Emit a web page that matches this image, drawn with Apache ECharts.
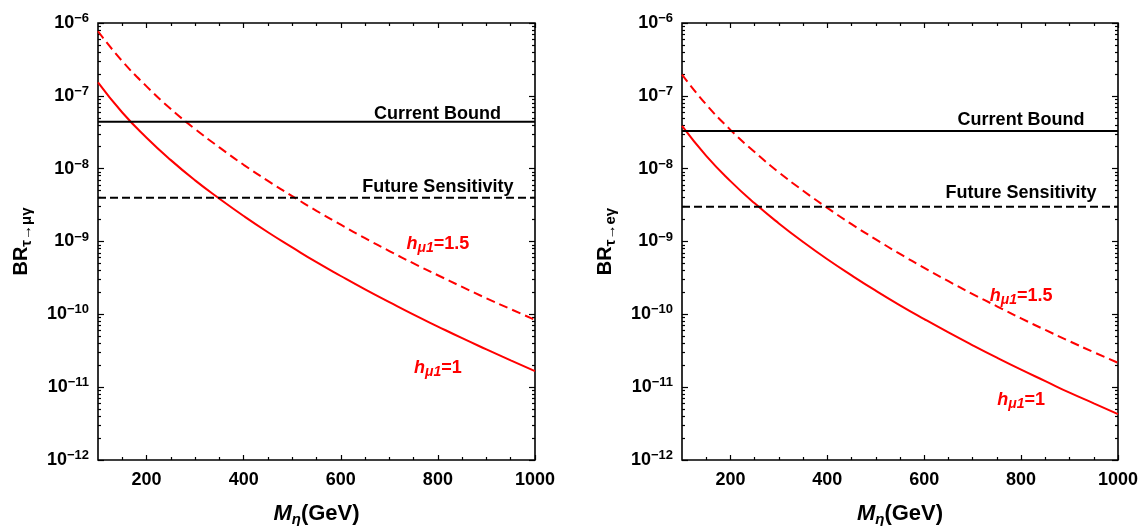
<!DOCTYPE html>
<html>
<head>
<meta charset="utf-8">
<script src="https://cdn.jsdelivr.net/npm/echarts@6/dist/echarts.min.js"></script>
<style>
  html, body { margin: 0; padding: 0; background: #fff; }
  #chart { width: 1145px; height: 526px; }
</style>
</head>
<body>
<div id="chart"></div>
<script>
// M_eta in GeV
const masses = [100, 150, 200, 250, 300, 350, 400, 450, 500, 550, 600, 650, 700, 750, 800, 850, 900, 950, 1000];

// BR(tau -> mu gamma)
const tauMuH1 = [1.53e-7, 5.9e-8, 2.66e-8, 1.31e-8, 6.9e-9, 3.87e-9, 2.24e-9, 1.34e-9, 8.3e-10, 5.2e-10,
  3.36e-10, 2.2e-10, 1.47e-10, 9.9e-11, 6.8e-11, 4.7e-11, 3.3e-11, 2.33e-11, 1.66e-11];
const tauMuH15 = [7.7e-7, 2.99e-7, 1.35e-7, 6.6e-8, 3.5e-8, 1.96e-8, 1.13e-8, 6.8e-9, 4.2e-9, 2.64e-9,
  1.7e-9, 1.11e-9, 7.4e-10, 5.0e-10, 3.44e-10, 2.38e-10, 1.66e-10, 1.18e-10, 8.4e-11];

// BR(tau -> e gamma)
const tauEH1 = [3.86e-8, 1.5e-8, 6.75e-9, 3.34e-9, 1.77e-9, 9.85e-10, 5.7e-10, 3.43e-10, 2.11e-10, 1.33e-10,
  8.6e-11, 5.64e-11, 3.76e-11, 2.54e-11, 1.74e-11, 1.21e-11, 8.4e-12, 6.0e-12, 4.26e-12];
const tauEH15 = [1.95e-7, 7.6e-8, 3.41e-8, 1.69e-8, 8.9e-9, 4.98e-9, 2.89e-9, 1.73e-9, 1.07e-9, 6.75e-10,
  4.35e-10, 2.85e-10, 1.9e-10, 1.29e-10, 8.8e-11, 6.1e-11, 4.27e-11, 3.02e-11, 2.16e-11];

// [current bound, future sensitivity]
const tauMuBounds = [4.4e-8, 4.0e-9];
const tauEBounds = [3.3e-8, 3.0e-9];

const xTickLabels = [200, 400, 600, 800, 1000];
const xMinorTicks = [150, 250, 300, 350, 450, 500, 550, 650, 700, 750, 850, 900, 950];
const yExponents = [-12, -11, -10, -9, -8, -7, -6];

const FONT = "'Liberation Sans', Arial, sans-serif";

// minor log ticks (2..9 in each decade), in exponent units
const yMinorTicks = [];
for (let d = yExponents[0]; d < yExponents[yExponents.length - 1]; d++) {
  for (let k = 2; k <= 9; k++) yMinorTicks.push(d + Math.log10(k));
}

const chart = echarts.init(document.getElementById("chart"));

const gridBase = { top: 23, height: 437, show: true, borderColor: "#000", borderWidth: 1.6,
  backgroundColor: "transparent", outerBoundsMode: "none", containLabel: false };
const grids = [
  { ...gridBase, left: 98, width: 437 },
  { ...gridBase, left: 682, width: 436 },
];

const tickStyle = { color: "#000", width: 1.2 };

const xAxes = [];
const yAxes = [];
const series = [];

function addPanel(g, solid, dashed, bounds, sub, labelSpots) {
  const xBase = xAxes.length;
  const yBase = yAxes.length;

  const xCommon = { gridIndex: g, type: "value", min: 100, max: 1000, axisLine: { show: false }, splitLine: { show: false } };
  xAxes.push({
    ...xCommon,
    position: "bottom",
    axisTick: { inside: true, length: 5, customValues: xTickLabels, lineStyle: tickStyle },
    axisLabel: { customValues: xTickLabels, formatter: (v) => String(v), margin: 11,
      color: "#000", fontSize: 18, fontWeight: "bold", fontFamily: FONT },
    name: "{i|M}{s|η}{n|(GeV)}",
    nameLocation: "middle",
    nameGap: 41,
    nameTextStyle: {
      rich: {
        i: { fontSize: 22, fontStyle: "italic", fontWeight: "bold", fontFamily: FONT, color: "#000", lineHeight: 26 },
        s: { fontSize: 15, fontStyle: "italic", fontWeight: "bold", fontFamily: FONT, color: "#000", lineHeight: 14, verticalAlign: "bottom" },
        n: { fontSize: 22, fontWeight: "bold", fontFamily: FONT, color: "#000", lineHeight: 26 },
      },
    },
  });
  xAxes.push({ ...xCommon, position: "bottom", axisLabel: { show: false },
    axisTick: { inside: true, length: 3, customValues: xMinorTicks, lineStyle: tickStyle } });
  xAxes.push({ ...xCommon, position: "top", axisLabel: { show: false },
    axisTick: { inside: true, length: 5, customValues: xTickLabels, lineStyle: tickStyle } });
  xAxes.push({ ...xCommon, position: "top", axisLabel: { show: false },
    axisTick: { inside: true, length: 3, customValues: xMinorTicks, lineStyle: tickStyle } });

  // data axis (log), hidden
  yAxes.push({ gridIndex: g, type: "log", logBase: 10, min: 1e-12, max: 1e-6, show: false });
  const yCommon = { gridIndex: g, type: "value", min: -12, max: -6, axisLine: { show: false }, splitLine: { show: false } };
  yAxes.push({
    ...yCommon,
    position: "left",
    interval: 1,
    axisTick: { inside: true, length: 6, lineStyle: tickStyle },
    axisLabel: {
      margin: 9,
      formatter: (v) => "{b|10}{s|\u2212" + Math.abs(Math.round(v)) + "}",
      rich: {
        b: { fontSize: 18, fontWeight: "bold", fontFamily: FONT, color: "#000", lineHeight: 22 },
        s: { fontSize: 13, fontWeight: "bold", fontFamily: FONT, color: "#000", lineHeight: 13, verticalAlign: "top" },
      },
    },
    name: "{a|BR}{b|" + sub + "}",
    nameLocation: "middle",
    nameRotate: 90,
    nameGap: 64,
    nameTextStyle: {
      rich: {
        a: { fontSize: 20, fontWeight: "bold", fontFamily: FONT, color: "#000", lineHeight: 26 },
        b: { fontSize: 15, fontWeight: "bold", fontFamily: FONT, color: "#000", lineHeight: 15, verticalAlign: "bottom" },
      },
    },
  });
  yAxes.push({ ...yCommon, position: "left", axisLabel: { show: false },
    axisTick: { inside: true, length: 3, customValues: yMinorTicks, lineStyle: tickStyle } });
  yAxes.push({ ...yCommon, position: "right", interval: 1, axisLabel: { show: false },
    axisTick: { inside: true, length: 6, lineStyle: tickStyle } });
  yAxes.push({ ...yCommon, position: "right", axisLabel: { show: false },
    axisTick: { inside: true, length: 3, customValues: yMinorTicks, lineStyle: tickStyle } });

  const base = { type: "line", xAxisIndex: xBase, yAxisIndex: yBase, showSymbol: false, silent: true, animation: false };
  series.push({ ...base, data: masses.map((m, i) => [m, solid[i]]), smooth: true,
    lineStyle: { color: "#ff0000", width: 2 } });
  series.push({ ...base, data: masses.map((m, i) => [m, dashed[i]]), smooth: true,
    lineStyle: { color: "#ff0000", width: 2, type: [9, 5] } });
  series.push({ ...base, data: [[100, bounds[0]], [1000, bounds[0]]],
    lineStyle: { color: "#000", width: 2 } });
  series.push({ ...base, data: [[100, bounds[1]], [1000, bounds[1]]],
    lineStyle: { color: "#000", width: 2, type: [8, 4] } });

  const blackText = { fontSize: 18, fontWeight: "bold", fontFamily: FONT, color: "#000" };
  const redRich = {
    h: { fontSize: 18, fontStyle: "italic", fontWeight: "bold", fontFamily: FONT, color: "#ff0000", lineHeight: 22 },
    s: { fontSize: 14, fontStyle: "italic", fontWeight: "bold", fontFamily: FONT, color: "#ff0000", lineHeight: 13, verticalAlign: "bottom" },
    n: { fontSize: 18, fontWeight: "bold", fontFamily: FONT, color: "#ff0000", lineHeight: 22 },
  };
  series.push({
    type: "scatter",
    xAxisIndex: xBase,
    yAxisIndex: yBase,
    symbolSize: 0,
    silent: true,
    animation: false,
    itemStyle: { opacity: 1 },
    label: { show: true, position: "inside" },
    data: [
      { value: labelSpots.current, label: { formatter: "Current Bound", ...blackText } },
      { value: labelSpots.future, label: { formatter: "Future Sensitivity", ...blackText } },
      { value: labelSpots.h15, label: { formatter: "{h|h}{s|\u03bc1}{n|=1.5}", rich: redRich } },
      { value: labelSpots.h1, label: { formatter: "{h|h}{s|\u03bc1}{n|=1}", rich: redRich } },
    ],
  });
}

addPanel(0, tauMuH1, tauMuH15, tauMuBounds, "\u03c4\u2192\u03bc\u03b3", {
  current: [799, 5.6e-8], future: [800, 5.6e-9], h15: [800, 9.2e-10], h1: [800, 1.85e-11],
});
addPanel(1, tauEH1, tauEH15, tauEBounds, "\u03c4\u2192e\u03b3", {
  current: [800, 4.7e-8], future: [800, 4.7e-9], h15: [800, 1.8e-10], h1: [800, 6.7e-12],
});

chart.setOption({
  backgroundColor: "#fff",
  animation: false,
  grid: grids,
  xAxis: xAxes,
  yAxis: yAxes,
  series: series,
});
</script>
</body>
</html>
